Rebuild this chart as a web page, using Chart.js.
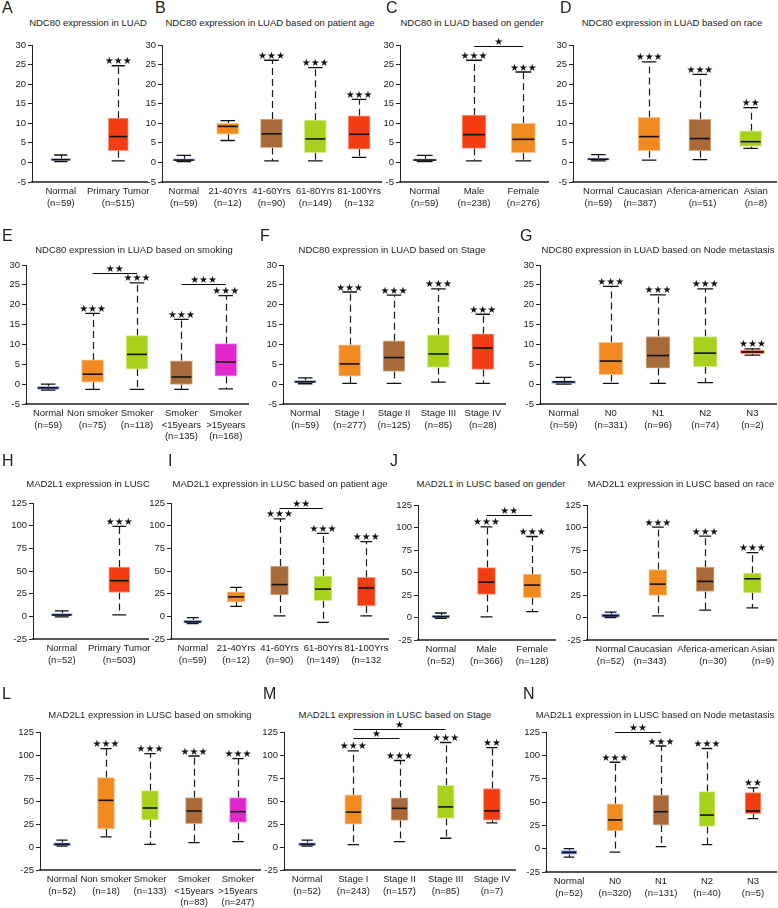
<!DOCTYPE html>
<html>
<head>
<meta charset="utf-8">
<script src="https://cdn.jsdelivr.net/npm/chart.js@4.4.0/dist/chart.umd.min.js"></script>
<style>
  body { margin: 0; background: #fff; width: 778px; height: 908px; position: relative; overflow: hidden;
         font-family: "Liberation Sans", Arial, sans-serif; color: #222; }
  .letter { position: absolute; font-size: 16px; line-height: 16px; }
  .title { position: absolute; font-size: 9.5px; line-height: 10px; white-space: nowrap; transform: translateX(-50%); }
  canvas { position: absolute; }
</style>
</head>
<body>
<script>
// ---- data: each stats row is [lower whisker, q1, median, q3, upper whisker] ----
// A
const aLabels = [['Normal', '(n=59)'], ['Primary Tumor', '(n=515)']];
const aStats = [[0.2, 0.5, 0.7, 1.0, 1.9], [0.4, 3.0, 6.6, 11.3, 24.7]];
const aStars = [0, 3];
const aSig = [];
// B
const bLabels = [['Normal', '(n=59)'], ['21-40Yrs', '(n=12)'], ['41-60Yrs', '(n=90)'], ['61-80Yrs', '(n=149)'], ['81-100Yrs', '(n=132']];
const bStats = [[0.2, 0.4, 0.6, 0.9, 1.8], [5.6, 7.2, 9.2, 10.0, 10.7], [0.4, 3.8, 7.3, 11.1, 26.1], [0.4, 2.5, 6.0, 10.8, 24.2], [1.3, 3.4, 7.2, 11.9, 16.1]];
const bStars = [0, 0, 3, 3, 3];
const bSig = [];
// C
const cLabels = [['Normal', '(n=59)'], ['Male', '(n=238)'], ['Female', '(n=276)']];
const cStats = [[0.2, 0.4, 0.6, 0.9, 1.8], [0.4, 3.6, 7.1, 12.1, 26.1], [0.4, 2.5, 5.9, 10.0, 23.1]];
const cStars = [0, 3, 3];
const cSig = [[1, 2, 29.7, 1]];
// D
const dLabels = [['Normal', '(n=59)'], ['Caucasian', '(n=387)'], ['Aferica-american', '(n=51)'], ['Asian', '(n=8)']];
const dStats = [[0.4, 0.6, 0.8, 1.1, 2.0], [0.6, 3.0, 6.6, 11.5, 25.7], [0.7, 3.0, 6.1, 11.0, 22.5], [3.6, 4.1, 5.3, 8.1, 14.0]];
const dStars = [0, 3, 3, 2];
const dSig = [];
// E
const eLabels = [['Normal', '(n=59)'], ['Non smoker', '(n=75)'], ['Smoker', '(n=118)'], ['Smoker', '<15years', '(n=135)'], ['Smoker', '>15years', '(n=168)']];
const eStats = [[-1.5, -1.3, -0.9, -0.6, 0.0], [-1.3, 0.5, 2.5, 6.1, 17.8], [-1.3, 3.8, 7.5, 12.2, 25.5], [-1.3, -0.1, 1.8, 5.9, 16.3], [-1.2, 2.0, 5.6, 10.2, 22.3]];
const eStars = [0, 3, 3, 3, 3];
const eSig = [[1, 2, 28.0, 2], [3, 4, 25.3, 3]];
// F
const fLabels = [['Normal', '(n=59)'], ['Stage I', '(n=277)'], ['Stage II', '(n=125)'], ['Stage III', '(n=85)'], ['Stage IV', '(n=28)']];
const fStats = [[0.1, 0.3, 0.6, 0.9, 1.6], [0.2, 2.0, 5.1, 9.9, 23.2], [0.2, 3.2, 6.7, 10.9, 22.4], [0.5, 4.2, 7.6, 12.4, 24.0], [0.2, 3.7, 9.1, 12.7, 17.6]];
const fStars = [0, 3, 3, 3, 3];
const fSig = [];
// G
const gLabels = [['Normal', '(n=59)'], ['N0', '(n=331)'], ['N1', '(n=96)'], ['N2', '(n=74)'], ['N3', '(n=2)']];
const gStats = [[0.0, 0.2, 0.6, 0.8, 1.7], [0.2, 2.4, 5.8, 10.5, 24.6], [0.2, 4.0, 7.2, 12.0, 22.5], [0.4, 4.4, 7.8, 12.0, 24.0], [7.3, 7.7, 8.1, 8.6, 8.9]];
const gStars = [0, 3, 3, 3, 3];
const gSig = [];
// H
const hLabels = [['Normal', '(n=52)'], ['Primary Tumor', '(n=503)']];
const hStats = [[-0.5, 0, 1.5, 3, 6], [1.5, 26.3, 39.3, 54.4, 99.3]];
const hStars = [0, 3];
const hSig = [];
// I
const iLabels = [['Normal', '(n=59)'], ['21-40Yrs', '(n=12)'], ['41-60Yrs', '(n=90)'], ['61-80Yrs', '(n=149)'], ['81-100Yrs', '(n=132']];
const iStats = [[-8, -7.5, -6, -4.5, -1.5], [11, 16, 21.5, 27, 32], [0.5, 23.5, 35, 55.5, 107.4], [-6.6, 17.3, 30, 44.5, 91.5], [0.5, 11.4, 31.3, 43, 82.4]];
const iStars = [0, 0, 3, 3, 3];
const iSig = [[2, 3, 120, 2]];
// J
const jLabels = [['Normal', '(n=52)'], ['Male', '(n=366)'], ['Female', '(n=128)']];
const jStats = [[-1, -0.5, 1, 2.5, 5], [0.7, 25.7, 39.3, 55.5, 100.7], [6.6, 22, 36, 48.2, 90]];
const jStars = [0, 3, 3];
const jSig = [[1, 2, 113.6, 2]];
// K
const kLabels = [['Normal', '(n=52)'], ['Caucasian', '(n=343)'], ['Aferica-american', '(n=30)'], ['Asian', '(n=9)']];
const kStats = [[0, 0.5, 2, 4, 6], [1.8, 24.6, 37.1, 53.3, 100.4], [8.1, 29, 40.1, 55.9, 90.4], [10.7, 27.2, 43, 49.3, 72]];
const kStars = [0, 3, 3, 3];
const kSig = [];
// L
const lLabels = [['Normal', '(n=52)'], ['Non smoker', '(n=18)'], ['Smoker', '(n=133)'], ['Smoker', '<15years', '(n=83)'], ['Smoker', '>15years', '(n=247)']];
const lStats = [[1, 1.5, 3, 4.5, 7.5], [10.9, 19.6, 50.7, 75.4, 107], [2.9, 29.3, 42.4, 61.2, 101.4], [4.7, 25.4, 39.1, 53.6, 98.9], [5.8, 26.8, 38.4, 53.6, 96]];
const lStars = [0, 3, 3, 3, 3];
const lSig = [];
// M
const mLabels = [['Normal', '(n=52)'], ['Stage I', '(n=243)'], ['Stage II', '(n=157)'], ['Stage III', '(n=85)'], ['Stage IV', '(n=7)']];
const mStats = [[1, 1.5, 3, 4.5, 7.5], [2.5, 24.8, 37.9, 56.8, 104.4], [5.8, 28.8, 42, 53.5, 94], [9.5, 31, 43.6, 67, 113.6], [26.2, 29.1, 39.3, 63.6, 108]];
const mStars = [0, 3, 3, 3, 2];
const mSig = [[1, 2, 118.4, 1], [1, 3, 128, 1]];
// N
const nLabels = [['Normal', '(n=52)'], ['N0', '(n=320)'], ['N1', '(n=131)'], ['N2', '(n=40)'], ['N3', '(n=5)']];
const nStats = [[-9, -6, -4, -2, 0], [-3.7, 19.4, 30.8, 48, 92.6], [2.2, 25.3, 39.6, 57.5, 110], [4.4, 23.8, 36, 61.2, 107.3], [32.2, 37.4, 40.3, 60, 65.2]];
const nStars = [0, 3, 3, 3, 2];
const nSig = [[1, 2, 124.6, 2]];

// fill / border colours
const PALETTE = {
  blue: ['#3d5ad2', '#94a6ee'],
  red: ['#f23d12', '#f89a80'],
  orange: ['#f18a21', '#f8c28a'],
  brown: ['#a86a38', '#d5b08e'],
  lime: ['#a8d11b', '#d6ec8e'],
  magenta: ['#e128cf', '#f19ae8']
};

const FONT = { family: '"Liberation Sans", Arial, sans-serif', size: 9.5, lineHeight: 1.2 };
const small = { min: -5, max: 30, step: 5 };
const big = { min: -25, max: 125, step: 25 };

const panels = [
  { id: 'A', title: 'NDC80 expression in LUAD', labels: aLabels, stats: aStats, stars: aStars, sig: aSig, colors: ['blue', 'red'], y: small, ax: 32, ar: 147, yt: 45, yb: 182, bw: 20, lx: 2, ly: 2, tx: 88, ty: 23 },
  { id: 'B', title: 'NDC80 expression in LUAD based on patient age', labels: bLabels, stats: bStats, stars: bStars, sig: bSig, colors: ['blue', 'orange', 'brown', 'lime', 'red'], y: small, ax: 162, ar: 381, yt: 45, yb: 182, bw: 22, lx: 155, ly: 2, tx: 270, ty: 23 },
  { id: 'C', title: 'NDC80 in LUAD based on gender', labels: cLabels, stats: cStats, stars: cStars, sig: cSig, colors: ['blue', 'red', 'orange'], y: small, ax: 400, ar: 548, yt: 45, yb: 182, bw: 24, lx: 386, ly: 2, tx: 472, ty: 23 },
  { id: 'D', title: 'NDC80 expression in LUAD based on race', labels: dLabels, stats: dStats, stars: dStars, sig: dSig, colors: ['blue', 'orange', 'brown', 'lime'], y: small, ax: 573, ar: 776, yt: 45, yb: 182, bw: 22, lx: 560, ly: 2, tx: 672, ty: 23, shift: [0, -9, 3, 5] },
  { id: 'E', title: 'NDC80 expression in LUAD based on smoking', labels: eLabels, stats: eStats, stars: eStars, sig: eSig, colors: ['blue', 'orange', 'lime', 'brown', 'magenta'], y: small, ax: 26, ar: 248, yt: 265, yb: 404, bw: 22, lx: 2, ly: 230, tx: 134, ty: 250 },
  { id: 'F', title: 'NDC80 expression in LUAD based on Stage', labels: fLabels, stats: fStats, stars: fStars, sig: fSig, colors: ['blue', 'orange', 'brown', 'lime', 'red'], y: small, ax: 283, ar: 505, yt: 265, yb: 404, bw: 22, lx: 260, ly: 230, tx: 392, ty: 250 },
  { id: 'G', title: 'NDC80 expression in LUAD based on Node metastasis', labels: gLabels, stats: gStats, stars: gStars, sig: gSig, colors: ['blue', 'orange', 'brown', 'lime', 'red'], y: small, ax: 540, ar: 776, yt: 265, yb: 404, bw: 24, lx: 520, ly: 230, tx: 658, ty: 250 },
  { id: 'H', title: 'MAD2L1 expression in LUSC', labels: hLabels, stats: hStats, stars: hStars, sig: hSig, colors: ['blue', 'red'], y: big, ax: 33, ar: 148, yt: 503, yb: 639, bw: 21, lx: 2, ly: 455, tx: 88, ty: 484 },
  { id: 'I', title: 'MAD2L1 expression in LUSC based on patient age', labels: iLabels, stats: iStats, stars: iStars, sig: iSig, colors: ['blue', 'orange', 'brown', 'lime', 'red'], y: big, ax: 171, ar: 388, yt: 503, yb: 639, bw: 18, lx: 168, ly: 455, tx: 280, ty: 484 },
  { id: 'J', title: 'MAD2L1 in LUSC based on gender', labels: jLabels, stats: jStats, stars: jStars, sig: jSig, colors: ['blue', 'red', 'orange'], y: big, ax: 418, ar: 555, yt: 505, yb: 640, bw: 18, lx: 390, ly: 455, tx: 491, ty: 484 },
  { id: 'K', title: 'MAD2L1 expression in LUSC based on race', labels: kLabels, stats: kStats, stars: kStars, sig: kSig, colors: ['blue', 'orange', 'brown', 'lime'], y: big, ax: 587, ar: 776, yt: 505, yb: 640, bw: 18, lx: 576, ly: 455, tx: 681, ty: 484, shift: [0, -8, 8, 10] },
  { id: 'L', title: 'MAD2L1 expression in LUSC based on smoking', labels: lLabels, stats: lStats, stars: lStars, sig: lSig, colors: ['blue', 'orange', 'lime', 'brown', 'magenta'], y: big, ax: 40, ar: 260, yt: 732, yb: 870, bw: 17, lx: 2, ly: 688, tx: 150, ty: 715 },
  { id: 'M', title: 'MAD2L1 expression in LUSC based on Stage', labels: mLabels, stats: mStats, stars: mStars, sig: mSig, colors: ['blue', 'orange', 'brown', 'lime', 'red'], y: big, ax: 284, ar: 515, yt: 732, yb: 870, bw: 17, lx: 263, ly: 688, tx: 395, ty: 715 },
  { id: 'N', title: 'MAD2L1 expression in LUSC based on Node metastasis', labels: nLabels, stats: nStats, stars: nStars, sig: nSig, colors: ['blue', 'orange', 'brown', 'lime', 'red'], y: big, ax: 546, ar: 776, yt: 732, yb: 872, bw: 16, lx: 523, ly: 688, tx: 655, ty: 715 }
];

// whiskers, medians, caps and significance stars, placed through the chart scales
function boxParts(p) {
  return {
    id: 'boxParts' + p.id,
    beforeDatasetsDraw(chart) {
      const ctx = chart.ctx, xs = chart.scales.x, ys = chart.scales.y;
      ctx.save();
      ctx.strokeStyle = '#1a1a1a';
      ctx.lineWidth = 1.2;
      ctx.setLineDash([7, 4]);
      p.stats.forEach((s, i) => {
        const x = Math.round(xs.getPixelForValue(i)) + 0.5;
        ctx.beginPath();
        ctx.moveTo(x, ys.getPixelForValue(s[3]));
        ctx.lineTo(x, ys.getPixelForValue(s[4]));
        ctx.moveTo(x, ys.getPixelForValue(s[1]));
        ctx.lineTo(x, ys.getPixelForValue(s[0]));
        ctx.stroke();
      });
      ctx.restore();
    },
    afterDatasetsDraw(chart) {
      const ctx = chart.ctx, xs = chart.scales.x, ys = chart.scales.y;
      const half = p.bw / 2, cap = p.bw * 0.33;
      ctx.save();
      ctx.strokeStyle = '#111';
      ctx.fillStyle = '#111';
      ctx.textAlign = 'center';
      ctx.textBaseline = 'alphabetic';
      ctx.font = '10px "DejaVu Sans"';
      p.stats.forEach((s, i) => {
        const x = xs.getPixelForValue(i);
        ctx.lineWidth = 1.6;
        ctx.beginPath();
        ctx.moveTo(x - half + 1, ys.getPixelForValue(s[2]));
        ctx.lineTo(x + half - 1, ys.getPixelForValue(s[2]));
        ctx.stroke();
        ctx.lineWidth = 1.3;
        ctx.beginPath();
        ctx.moveTo(x - cap, ys.getPixelForValue(s[4]));
        ctx.lineTo(x + cap, ys.getPixelForValue(s[4]));
        ctx.moveTo(x - cap, ys.getPixelForValue(s[0]));
        ctx.lineTo(x + cap, ys.getPixelForValue(s[0]));
        ctx.stroke();
        if (p.stars[i] > 0) {
          ctx.fillText('★'.repeat(p.stars[i]), x, ys.getPixelForValue(s[4]) - 1.5);
        }
      });
      p.sig.forEach(([a, b, v, n]) => {
        const y = Math.round(ys.getPixelForValue(v)) + 0.5;
        ctx.lineWidth = 1;
        ctx.beginPath();
        ctx.moveTo(xs.getPixelForValue(a), y);
        ctx.lineTo(xs.getPixelForValue(b), y);
        ctx.stroke();
        ctx.fillText('★'.repeat(n), (xs.getPixelForValue(a) + xs.getPixelForValue(b)) / 2, y - 2);
      });
      ctx.restore();
    }
  };
}

function drawPanel(p) {
  const letter = document.createElement('div');
  letter.className = 'letter';
  letter.textContent = p.id;
  letter.style.left = p.lx + 'px';
  letter.style.top = (p.ly - 2) + 'px';
  document.body.appendChild(letter);

  const title = document.createElement('div');
  title.className = 'title';
  title.textContent = p.title;
  title.style.left = p.tx + 'px';
  title.style.top = (p.ty - 5) + 'px';
  document.body.appendChild(title);

  const padTop = 22, padRight = 14, yW = 34, xH = 50;
  const left = p.ax - yW, top = p.yt - padTop;
  const w = p.ar - left + padRight, h = p.yb - top + xH;
  const cv = document.createElement('canvas');
  cv.width = w; cv.height = h;
  cv.style.left = left + 'px'; cv.style.top = top + 'px';
  cv.style.width = w + 'px'; cv.style.height = h + 'px';
  document.body.appendChild(cv);

  // labels that sit off-centre in the original are nudged by padding with spaces
  const tickText = (value, index) => {
    const lab = p.labels[index];
    const s = p.shift ? p.shift[index] : 0;
    if (!s) return lab;
    const pad = ' '.repeat(Math.round(Math.abs(s) / 1.32));
    return lab.map(t => (s < 0 ? t + pad : pad + t));
  };

  new Chart(cv, {
    type: 'bar',
    data: {
      labels: p.labels,
      datasets: [{
        data: p.stats.map(s => [s[1], s[3]]),
        backgroundColor: p.colors.map(c => PALETTE[c][0]),
        borderColor: p.colors.map(c => PALETTE[c][1]),
        borderWidth: 1,
        borderSkipped: false,
        barThickness: p.bw
      }]
    },
    options: {
      responsive: false,
      animation: false,
      layout: { padding: { top: padTop, right: padRight, left: 0, bottom: 0 } },
      plugins: { legend: { display: false }, tooltip: { enabled: false } },
      scales: {
        x: {
          grid: { display: false },
          border: { display: true, color: '#555', width: 2 },
          ticks: { font: FONT, color: '#222', padding: -4, maxRotation: 0, autoSkip: false, callback: tickText },
          afterFit: s => { s.height = xH; }
        },
        y: {
          min: p.y.min, max: p.y.max,
          ticks: { stepSize: p.y.step, font: FONT, color: '#222', padding: 2 },
          grid: { drawOnChartArea: false, drawTicks: true, tickLength: 4, color: '#222' },
          border: { display: true, color: '#222', width: 1 },
          afterFit: s => { s.width = yW; }
        }
      }
    },
    plugins: [boxParts(p)]
  });
}

panels.forEach(drawPanel);
</script>
</body>
</html>
